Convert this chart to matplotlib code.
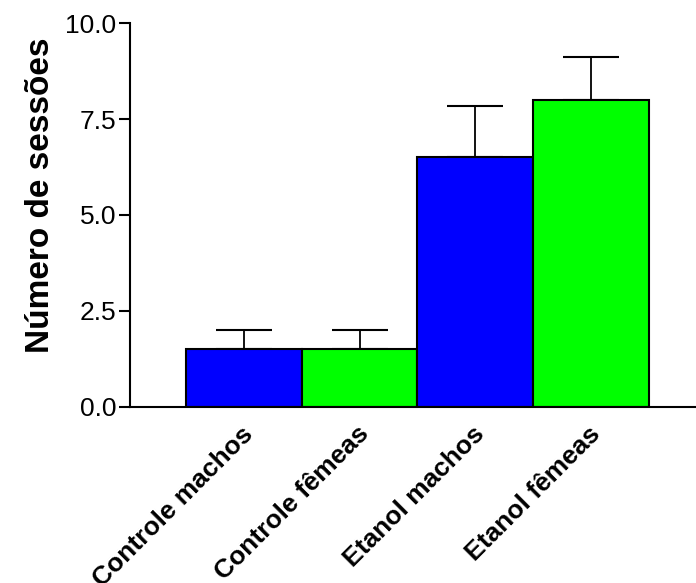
import numpy as np
import matplotlib.pyplot as plt
from matplotlib import transforms

plt.rcParams['font.family'] = ['Liberation Sans', 'DejaVu Sans']

# Data
groups = ['Controle machos', 'Controle fêmeas', 'Etanol machos', 'Etanol fêmeas']
means = [1.5, 1.5, 6.5, 8.0]
errors = [0.5, 0.5, 1.35, 1.12]
colors = ['#0000ff', '#00ff00', '#0000ff', '#00ff00']

fig = plt.figure(figsize=(6.96, 5.83), dpi=100)
ax = fig.add_axes([0.1868, 0.302, 0.8132, 0.6585])

x = np.arange(len(groups))
ax.bar(x, means, width=1.0, color=colors, edgecolor='black', linewidth=1.5, zorder=2)
ax.errorbar(x, means, yerr=[np.zeros(len(means)), errors], fmt='none',
            ecolor='black', elinewidth=1.3, capsize=20, capthick=1.5, zorder=1)

ax.set_xlim(-0.985, 3.91)
ax.set_ylim(0, 10)
ax.set_yticks([0, 2.5, 5.0, 7.5, 10.0])
ax.set_yticklabels(['0.0', '2.5', '5.0', '7.5', '10.0'], fontsize=19)
ax.tick_params(axis='y', length=8, width=1.5, direction='out', pad=2)
ax.tick_params(axis='x', length=0)

ax.set_xticks(x)
offset = transforms.ScaledTranslation(-3 / 100, -10 / 100, fig.dpi_scale_trans)
ax.set_xticklabels(groups, rotation=45, ha='right', va='top',
                   rotation_mode='anchor', fontsize=19, fontweight='bold')
for lbl in ax.get_xticklabels():
    lbl.set_transform(lbl.get_transform() + offset)

ax.spines['top'].set_visible(False)
ax.spines['right'].set_visible(False)
ax.spines['left'].set_linewidth(1.5)
ax.spines['bottom'].set_linewidth(1.5)

ax.set_ylabel('Número de sessões', fontsize=24, fontweight='bold')
ax.yaxis.set_label_coords(-0.13, 0.552)

fig.savefig('out.png', dpi=100)
